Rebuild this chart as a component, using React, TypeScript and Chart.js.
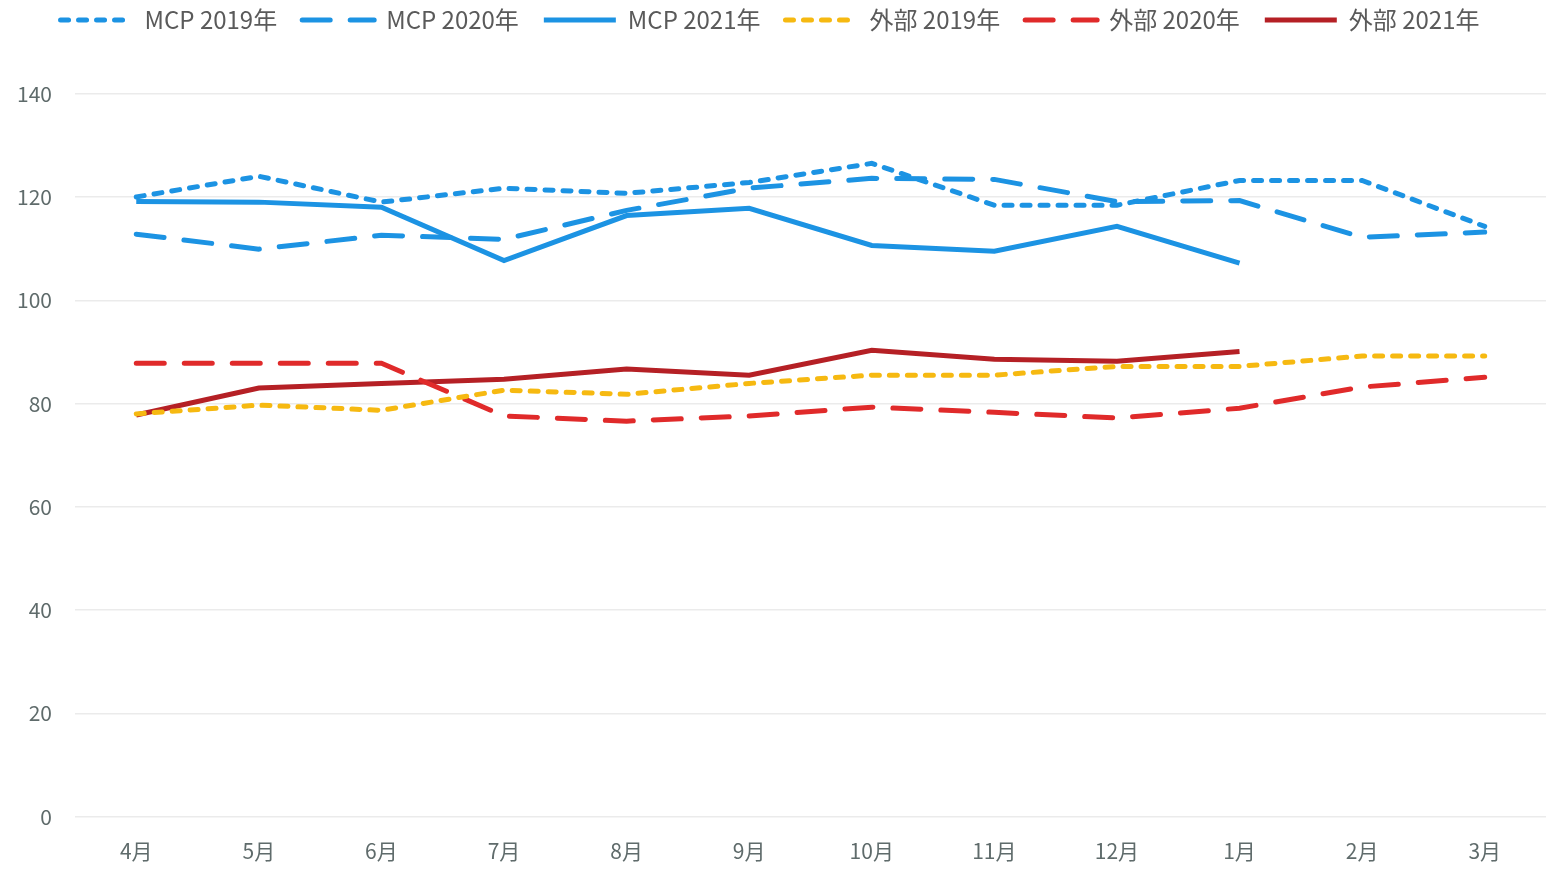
import React, { useEffect, useRef } from "react";
import { Chart, registerables } from "chart.js";

Chart.register(...registerables);

const months = ["4月", "5月", "6月", "7月", "8月", "9月", "10月", "11月", "12月", "1月", "2月", "3月"];
const mcp2019 = [120, 124, 119, 121.7, 120.7, 122.8, 126.5, 118.4, 118.4, 123.2, 123.2, 114.3];
const mcp2020 = [112.8, 109.9, 112.6, 111.8, 117.4, 121.7, 123.6, 123.4, 119.1, 119.3, 112.2, 113.2];
const mcp2021 = [119.1, 119, 118, 107.7, 116.4, 117.8, 110.6, 109.5, 114.3, 107.2, null, null];
const ext2019 = [78, 79.7, 78.7, 82.6, 81.8, 83.9, 85.5, 85.5, 87.2, 87.2, 89.2, 89.2];
const ext2020 = [87.8, 87.8, 87.8, 77.6, 76.6, 77.6, 79.3, 78.3, 77.2, 79.1, 83.2, 85.1];
const ext2021 = [77.8, 83, 83.9, 84.7, 86.7, 85.5, 90.3, 88.6, 88.2, 90.1, null, null];
const yTicks = [0, 20, 40, 60, 80, 100, 120, 140];

const BLUE = "#1c93e3";
const RED = "#e02a2a";
const DARKRED = "#b52025";
const YELLOW = "#f6b911";
const FONT = "'Noto Sans CJK JP', 'Noto Sans', sans-serif";

export default function App() {
  const ref = useRef<HTMLCanvasElement>(null);
  useEffect(() => {
    document.body.style.margin = "0";
    const mk = (label: string, data: (number | null)[], color: string, dash: number[], cap: CanvasLineCap) => ({
      label,
      data,
      borderColor: color,
      backgroundColor: color,
      borderWidth: 5,
      borderDash: dash,
      borderCapStyle: cap,
      pointRadius: 0,
      pointHoverRadius: 0,
      tension: 0,
      fill: false,
      spanGaps: false,
    });
    const chart = new Chart(ref.current!, {
      type: "line",
      data: {
        labels: months,
        datasets: [
          mk("MCP 2019年", mcp2019, BLUE, [8, 10], "round"),
          mk("MCP 2020年", mcp2020, BLUE, [28, 20], "round"),
          mk("MCP 2021年", mcp2021, BLUE, [], "butt"),
          mk("外部 2019年", ext2019, YELLOW, [8, 10], "round"),
          mk("外部 2020年", ext2020, RED, [28, 20], "round"),
          mk("外部 2021年", ext2021, DARKRED, [], "butt"),
        ] as any,
      },
      options: {
        animation: false,
        responsive: false,
        layout: { padding: { left: -6, right: 0, top: -17, bottom: -8 } },
        plugins: {
          tooltip: { enabled: false },
          legend: {
            position: "top",
            labels: {
              usePointStyle: true,
              pointStyle: "line",
              pointStyleWidth: 72,
              padding: 25,
              color: "#5a5a5a",
              font: { family: FONT, size: 24 },
              generateLabels: (c: any) =>
                c.data.datasets.map((ds: any, i: number) => ({
                  text: ds.label,
                  strokeStyle: ds.borderColor,
                  fillStyle: ds.borderColor,
                  lineWidth: 5,
                  lineDash: ds.borderDash,
                  lineCap: ds.borderCapStyle,
                  pointStyle: "line",
                  datasetIndex: i,
                  hidden: false,
                  fontColor: "#5a5a5a",
                })),
            },
          },
        },
        scales: {
          x: {
            offset: true,
            grid: { display: false },
            border: { display: false },
            ticks: {
              color: "#5f6b6b",
              padding: 14,
              maxRotation: 0,
              font: { family: FONT, size: 21 },
            },
          },
          y: {
            min: 0,
            max: 150,
            afterBuildTicks: (axis: any) => {
              axis.ticks = yTicks.map((v) => ({ value: v }));
            },
            grid: { color: "#ebebeb", lineWidth: 1.5, drawTicks: false },
            border: { display: false },
            ticks: {
              color: "#5f6b6b",
              padding: 23,
              font: { family: FONT, size: 21 },
            },
          },
        },
      },
    } as any);
    return () => chart.destroy();
  }, []);
  return <canvas ref={ref} width={1546} height={870} style={{ display: "block" }} />;
}
